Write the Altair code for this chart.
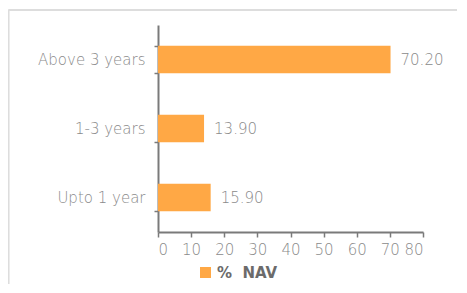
import altair as alt
import pandas as pd

categories = ["Above 3 years", "1-3 years", "Upto 1 year"]
values = [70.20, 13.90, 15.90]
series_name = "%\u00a0\u00a0NAV"
x_ticks = [0, 10, 20, 30, 40, 50, 60, 70, 80]

df = pd.DataFrame({"cat": categories, "val": values, "series": [series_name] * 3})
df["label"] = [f"{v:.2f}" for v in values]

FONT = "DejaVu Sans"
GRAY = "#8a8a8a"
AXIS = "#7a7a7a"
BAR = "#FFA845"

y_enc = alt.Y("cat:N", sort=categories, title=None,
              scale=alt.Scale(paddingInner=0.6, paddingOuter=0.3),
              axis=alt.Axis(tickBand="extent", domainColor=AXIS, domainWidth=2,
                            tickColor=AXIS, tickWidth=1.5, tickSize=4,
                            labelColor=GRAY, labelFont=FONT, labelFontSize=15,
                            labelFontWeight=200, labelPadding=9))
x_enc = alt.X("val:Q", title=None,
              scale=alt.Scale(domain=[0, 80], nice=False),
              axis=alt.Axis(values=x_ticks, grid=False, domainColor=AXIS, domainWidth=2,
                            tickColor=AXIS, tickWidth=1.5, tickSize=5, labelOverlap=False,
                            labelColor=GRAY, labelFont=FONT, labelFontSize=15,
                            labelFontWeight=200, labelPadding=5))

bars = alt.Chart(df).mark_bar().encode(
    y=y_enc, x=x_enc,
    color=alt.Color("series:N", scale=alt.Scale(range=[BAR]),
                    legend=alt.Legend(title=None, orient="none", legendX=40, legendY=240,
                                      symbolType="square", symbolSize=121,
                                      labelFont=FONT, labelFontSize=15, labelFontWeight="bold",
                                      labelColor="#6b6b6b", symbolStrokeWidth=0)),
)

texts = alt.Chart(df).mark_text(align="left", baseline="middle", dx=10,
                                font=FONT, fontSize=15, fontWeight=200, color=GRAY).encode(
    y=y_enc, x=x_enc, text="label:N")

frame_left = alt.Chart(df).mark_rule(color="#dddddd", strokeWidth=1.5, clip=False).encode(
    x=alt.value(-149.5), y=alt.value(-15), y2=alt.value(290))
frame_top = alt.Chart(df).mark_rule(color="#dddddd", strokeWidth=1.5, clip=False).encode(
    x=alt.value(-149.5), x2=alt.value(340), y=alt.value(-15))

chart = alt.layer(frame_left, frame_top, bars, texts).properties(
    width=265, height=207,
    background="white",
    autosize=alt.AutoSizeParams(type="none"),
    padding={"left": 150, "top": 17, "right": 34, "bottom": 52},
).configure_view(stroke=None)

chart.save("out.html", embed_options={"renderer": "svg", "actions": False})
